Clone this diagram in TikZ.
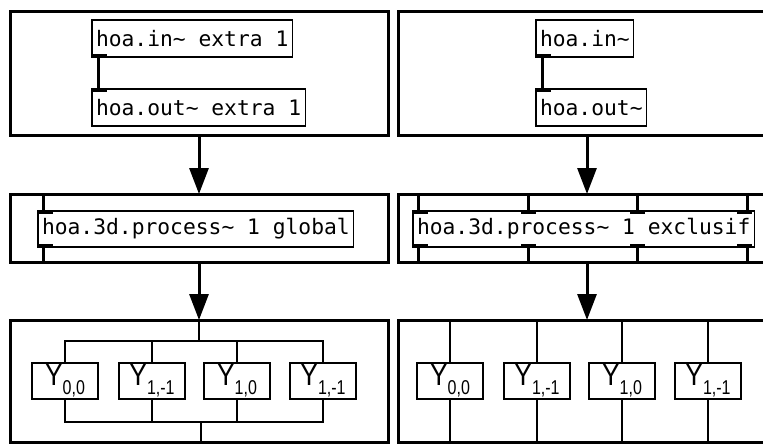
\documentclass[tikz,border=0pt]{standalone}
\usepackage{fontspec}
\usepackage{graphicx}
\usetikzlibrary{arrows.meta,calc}
\newfontfamily\pdmono{DejaVu Sans Mono}
\newfontfamily\ysans{Liberation Sans}
\newcommand{\Ylab}[1]{\scalebox{0.85}[1]{\fontsize{31}{31}\selectfont Y}\raisebox{-9pt}{\scalebox{0.8}[1]{\fontsize{20}{20}\selectfont #1}}}
\begin{document}
\begin{tikzpicture}[x=1pt,y=-1pt,
  frame/.style={draw, line width=3pt, inner sep=0pt, outer sep=0pt, anchor=north west},
  pdobj/.style={draw, line width=1.2pt, inner xsep=4pt, inner ysep=0pt, outer sep=0pt, minimum height=37pt, anchor=north west, font=\pdmono\fontsize{21.3}{25}\selectfont},
  cord/.style={line width=3pt},
  port/.style={line width=3pt},
  arr/.style={line width=3pt, -{Triangle[length=26pt,width=19pt]}},
  ybox/.style={draw, line width=1.3pt, minimum width=66pt, minimum height=36pt, inner sep=0pt, outer sep=0pt, font=\ysans},
  bus/.style={line width=1.3pt}]
\useasboundingbox (0,0) rectangle (763,444);
\clip (0,0) rectangle (763,444);
\fill[white] (0,0) rectangle (763,444);

% ---------- outer frames ----------
\node[frame, minimum width=378pt, minimum height=123pt] (top1) at (10,12) {};
\node[frame, minimum width=378pt, minimum height=68pt]  (mid1) at (10,194) {};
\node[frame, minimum width=378pt, minimum height=122pt] (bot1) at (10,320) {};
\node[frame, minimum width=378pt, minimum height=123pt] (top2) at (398,12) {};
\node[frame, minimum width=378pt, minimum height=68pt]  (mid2) at (398,194) {};
\node[frame, minimum width=378pt, minimum height=122pt] (bot2) at (398,320) {};

% ---------- top row objects ----------
\node[pdobj] (in1)  at (92,20) {hoa.in\textasciitilde{} extra 1};
\node[pdobj] (out1) at (92,89) {hoa.out\textasciitilde{} extra 1};
\node[pdobj] (in2)  at (536,20) {hoa.in\textasciitilde};
\node[pdobj] (out2) at (536,89) {hoa.out\textasciitilde};

\foreach \o in {in1,in2} {
  \draw[port] ([yshift=1.5pt]\o.south west) -- ++(15,0);
}
\foreach \o in {out1,out2} {
  \draw[port] ([yshift=-1.5pt]\o.north west) -- ++(15,0);
}
\draw[cord] ([xshift=6pt]in1.south west) -- ([xshift=6pt]out1.north west);
\draw[cord] ([xshift=6pt]in2.south west) -- ([xshift=6pt]out2.north west);

% ---------- arrows ----------
\draw[arr] (top1.south) -- (mid1.north);
\draw[arr] (top2.south) -- (mid2.north);
\draw[arr] (mid1.south) -- (bot1.north);
\draw[arr] (mid2.south) -- (bot2.north);

% ---------- middle row ----------
\node[pdobj, minimum height=36pt] (proc1) at (38,211) {hoa.3d.process\textasciitilde{} 1 global};
\node[pdobj, minimum height=36pt] (proc2) at (413,211) {hoa.3d.process\textasciitilde{} 1 exclusif};

\draw[port] ([yshift=-1.5pt]proc1.north west) -- ++(15,0);
\draw[port] ([yshift=1.5pt]proc1.south west) -- ++(15,0);
\coordinate (c1t) at ([xshift=5pt]proc1.north west);
\coordinate (c1b) at ([xshift=5pt]proc1.south west);
\draw[cord] (c1t) -- (c1t |- mid1.north);
\draw[cord] (c1b) -- (c1b |- mid1.south);

\foreach \px/\cx [count=\i] in {0/5,108/115,217/224,324/334} {
  \draw[port] ([xshift=\px pt, yshift=-1.5pt]proc2.north west) -- ++(15,0);
  \draw[port] ([xshift=\px pt, yshift=1.5pt]proc2.south west) -- ++(15,0);
  \coordinate (c2t\i) at ([xshift=\cx pt]proc2.north west);
  \coordinate (c2b\i) at ([xshift=\cx pt]proc2.south west);
  \draw[cord] (c2t\i) -- (c2t\i |- mid2.north);
  \draw[cord] (c2b\i) -- (c2b\i |- mid2.south);
}

% ---------- bottom row, left (global) ----------
\node[ybox] (ya1) at (65,381)  {\Ylab{0,0}};
\node[ybox] (ya2) at (152,381) {\Ylab{1,-1}};
\node[ybox] (ya3) at (237,381) {\Ylab{1,0}};
\node[ybox] (ya4) at (323,381) {\Ylab{1,-1}};

\draw[bus] (bot1.north) -- ++(0,21) coordinate (tbus);
\path (bot1.south) ++(2,-20) coordinate (lbus);
\foreach \y in {ya1,ya2,ya3,ya4} {
  \draw[bus] (\y.north) |- (tbus);
  \draw[bus] (\y.south) |- (lbus);
}
\draw[bus] (lbus) -- (lbus |- bot1.south);

% ---------- bottom row, right (exclusif) ----------
\node[ybox] (yb1) at (450,381) {\Ylab{0,0}};
\node[ybox] (yb2) at (537,381) {\Ylab{1,-1}};
\node[ybox] (yb3) at (622,381) {\Ylab{1,0}};
\node[ybox] (yb4) at (708,381) {\Ylab{1,-1}};
\foreach \y in {yb1,yb2,yb3,yb4} {
  \draw[bus] (\y.north) -- (\y.north |- bot2.north);
  \draw[bus] (\y.south) -- (\y.south |- bot2.south);
}
\end{tikzpicture}
\end{document}
